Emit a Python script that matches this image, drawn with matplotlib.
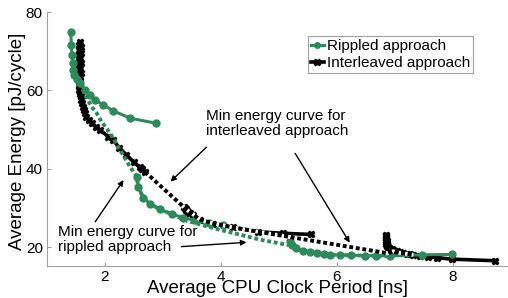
import numpy as np
import matplotlib
matplotlib.use('Agg')
import matplotlib.pyplot as plt

plt.rcParams['font.family'] = ['Liberation Sans', 'DejaVu Sans']

GREEN = '#2e8a5a'

# rippled approach, three branches (period ns, energy pJ/cycle)
rip1_x = [1.41, 1.42, 1.43, 1.44, 1.45, 1.47, 1.52, 1.57, 1.66, 1.74, 1.83, 1.97, 2.14, 2.43, 2.88]
rip1_y = [75.0, 71.6, 69.0, 66.9, 65.2, 64.0, 62.8, 61.8, 60.1, 58.8, 57.5, 56.3, 54.8, 52.9, 51.6]
rip2_x = [2.55, 2.57, 2.66, 2.78, 2.95, 3.15, 3.35, 3.55, 3.80, 4.04]
rip2_y = [38.0, 35.4, 32.6, 31.0, 29.6, 28.4, 27.5, 26.8, 26.1, 25.6]
rip3_x = [5.19, 5.22, 5.30, 5.41, 5.53, 5.65, 5.77, 5.88, 6.05, 6.25, 6.48, 6.68, 6.91, 7.46, 7.98]
rip3_y = [21.6, 20.6, 19.7, 19.1, 18.7, 18.4, 18.2, 18.0, 18.0, 17.9, 17.8, 17.8, 17.7, 18.0, 18.1]

# interleaved approach, three branches
ilv1_x = [1.57, 1.56, 1.58, 1.55, 1.58, 1.56, 1.57, 1.55, 1.58, 1.56, 1.57, 1.55, 1.58, 1.56,
          1.57, 1.55, 1.57, 1.56, 1.57, 1.56, 1.57, 1.57, 1.58, 1.59, 1.60,
          1.62, 1.64, 1.66, 1.68, 1.72, 1.77, 1.84, 1.91, 2.06, 2.14, 2.25, 2.37, 2.50, 2.60,
          2.64, 2.69]
ilv1_y = [72.4, 71.7, 71.0, 70.3, 69.6, 69.0, 68.3, 67.6, 67.0, 66.4, 65.8, 65.1, 64.5, 63.9,
          63.3, 62.6, 62.0, 61.4, 60.8, 60.2, 59.7, 59.1, 58.6, 57.6, 56.7,
          55.8, 55.0, 54.2, 53.3, 52.5, 51.6, 50.7, 49.9, 48.2, 47.3, 45.3, 43.5, 41.6, 40.3,
          39.8, 39.2]
ilv2_x = [3.36, 3.38, 3.39, 3.40, 3.42, 3.43, 3.45, 3.47, 3.52, 3.64, 3.87, 4.21, 4.64, 5.07, 5.56]
ilv2_y = [30.2, 29.9, 29.6, 29.4, 29.2, 29.0, 28.8, 28.6, 28.1, 27.0, 26.0, 25.0, 23.9, 23.5, 23.2]
ilv3_x = [6.84, 6.85, 6.84, 6.85, 6.84, 6.86, 6.85, 6.86, 6.85, 6.87, 6.87, 6.88, 6.90, 6.92,
          6.95, 6.97, 7.00, 7.03, 7.06, 7.09, 7.14, 7.20, 7.26, 7.32, 7.43,
          7.57, 7.72, 7.98, 8.72]
ilv3_y = [23.1, 22.8, 22.5, 22.2, 21.9, 21.6, 21.3, 21.0, 20.8, 20.5, 20.3, 20.0, 19.8, 19.6,
          19.4, 19.2, 19.1, 18.9, 18.8, 18.6, 18.4, 18.2, 18.1, 18.0, 17.7,
          17.5, 17.3, 16.9, 16.5]

# minimum energy curves
min_rip_x = [1.52, 1.66, 1.77, 1.86, 1.94, 2.09, 2.26, 2.43, 2.55, 2.57, 2.66, 2.78, 2.95, 3.15,
             3.41, 3.93, 4.67, 5.20, 5.36, 5.53, 5.88, 6.48, 6.91]
min_rip_y = [63.3, 58.8, 55.8, 54.1, 52.0, 49.0, 44.8, 40.5, 38.0, 35.4, 32.6, 31.0, 29.6, 28.4,
             26.7, 24.6, 21.9, 20.4, 19.2, 18.7, 18.0, 17.8, 17.7]
min_ilv_x = [2.69, 3.41, 3.64, 3.87, 4.21, 4.64, 6.88, 6.97, 7.09, 7.32]
min_ilv_y = [39.2, 29.5, 27.0, 26.0, 25.0, 23.9, 18.4, 18.9, 18.5, 18.0]

fig = plt.figure(figsize=(5.08, 2.98), dpi=100)
ax = fig.add_axes([47/508, 32/298, 461/508, 254/298])

for bx, by in [(ilv1_x, ilv1_y), (ilv2_x, ilv2_y), (ilv3_x, ilv3_y)]:
    ax.plot(bx, by, color='black', lw=2.6, marker='X', markersize=5, zorder=2)
for bx, by in [(rip1_x, rip1_y), (rip2_x, rip2_y), (rip3_x, rip3_y)]:
    ax.plot(bx, by, color=GREEN, lw=2.2, marker='o', markersize=5, zorder=3)

ax.plot(min_rip_x, min_rip_y, color=GREEN, lw=2.8, linestyle=(0, (1, 0.7)), zorder=4)
ax.plot(min_ilv_x, min_ilv_y, color='black', lw=2.8, linestyle=(0, (1, 0.7)),
        gapcolor='white', zorder=4)

# legend proxies
ax.plot([], [], color=GREEN, lw=2.2, marker='o', markersize=4, label='Rippled approach')
ax.plot([], [], color='black', lw=2.6, marker='X', markersize=5, label='Interleaved approach')
leg = ax.legend(loc='upper right', bbox_to_anchor=(0.924, 0.906), fontsize=11,
                handlelength=0.9, handletextpad=0.15, labelspacing=0.2, borderpad=0.2,
                borderaxespad=0, fancybox=False, framealpha=1)
leg.get_frame().set_edgecolor('#a0a0a0')
leg.get_frame().set_linewidth(0.8)

# annotations
arrow = dict(arrowstyle='-|>', color='black', lw=1, mutation_scale=8, shrinkA=0, shrinkB=0)
ax.text(3.75, 55.2, 'Min energy curve for\ninterleaved approach', fontsize=11,
        ha='left', va='top', linespacing=1.1, zorder=6)
ax.annotate('', xy=(3.13, 36.7), xytext=(3.75, 45.5), arrowprops=arrow, zorder=6)
ax.annotate('', xy=(6.22, 21.1), xytext=(5.28, 43.9), arrowprops=arrow, zorder=6)
ax.text(1.19, 25.6, 'Min energy curve for\nrippled approach', fontsize=11,
        ha='left', va='top', linespacing=1.05, zorder=6)
ax.annotate('', xy=(2.32, 37.1), xytext=(1.83, 26.4), arrowprops=arrow, zorder=6)
ax.annotate('', xy=(4.44, 21.2), xytext=(3.32, 20.1), arrowprops=arrow, zorder=6)

ax.set_xlim(1.0, 8.95)
ax.set_ylim(15.15, 80)
ax.set_xticks([2, 4, 6, 8])
ax.set_yticks([20, 40, 60, 80])
for s in ['top', 'right']:
    ax.spines[s].set_visible(False)
for s in ['left', 'bottom']:
    ax.spines[s].set_color('#a0a0a0')
    ax.spines[s].set_linewidth(0.8)
ax.tick_params(direction='in', length=3, color='#a0a0a0', labelsize=11, pad=3)

ax.set_xlabel('Average CPU Clock Period [ns]', fontsize=13.5)
ax.set_ylabel('Average Energy [pJ/cycle]', fontsize=13.5)
ax.xaxis.set_label_coords(0.5, -0.055)
ax.yaxis.set_label_coords(-0.045, 0.49)

fig.savefig('out.png', dpi=100)
